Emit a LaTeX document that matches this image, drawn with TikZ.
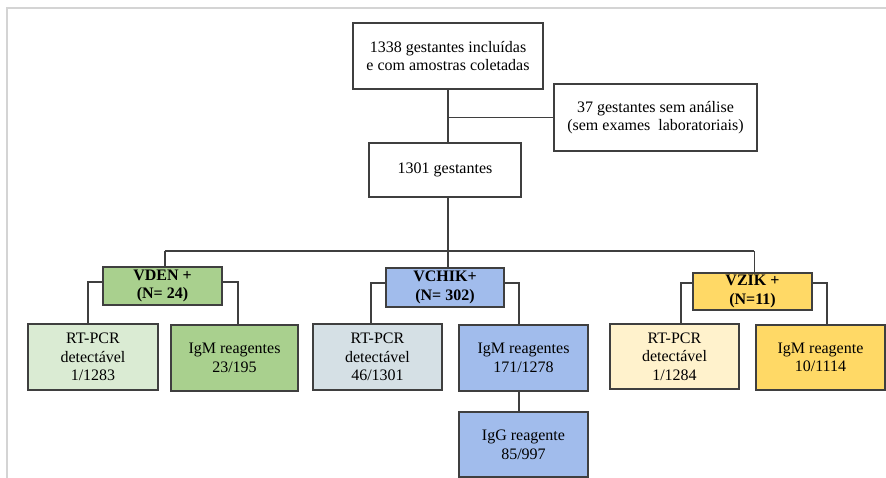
\documentclass[tikz,border=0pt]{standalone}
\usepackage{fontspec}
\setmainfont{Liberation Serif}

\definecolor{edge}{HTML}{3F3F3F}
\definecolor{frameline}{HTML}{D4D4D4}
\definecolor{denlight}{HTML}{DAEBD3}
\definecolor{dengreen}{HTML}{A9D08E}
\definecolor{chiklight}{HTML}{D5E0E5}
\definecolor{chikblue}{HTML}{A1BCEC}
\definecolor{ziklight}{HTML}{FFF2CC}
\definecolor{zikgold}{HTML}{FFD966}

\tikzset{
  box/.style={draw=edge, line width=1pt, inner sep=0pt, align=center,
    font=\fontsize{12pt}{14pt}\selectfont},
  vbox/.style={box, font=\fontsize{12pt}{14pt}\selectfont\bfseries},
  link/.style={draw=edge, line width=0.9pt},
}

\begin{document}
\begin{tikzpicture}[x=0.75pt, y=-0.75pt]
  \useasboundingbox (0,0) rectangle (886,478);
  \fill[white] (0,0) rectangle (886,478);
  % thin page frame on the top and left
  \draw[frameline, line width=0.8pt] (7,478) -- (7,8) -- (886,8);

  % screening
  \node[box, minimum width=142.5pt, minimum height=49.5pt] (top) at (448,56)
    {1338 gestantes incluídas\\e com amostras coletadas};
  \node[box, minimum width=152.25pt, minimum height=50.25pt] (excl) at (655.5,117.5)
    {37 gestantes sem análise\\(sem exames\ \ laboratoriais)};
  \node[box, minimum width=114pt, minimum height=40.5pt] (tot) at (445,170)
    {1301 gestantes};

  % virus groups
  \node[vbox, fill=dengreen, minimum width=89.25pt, minimum height=28.5pt] (vden) at (162.5,286)
    {VDEN +\\(N= 24)};
  \node[vbox, fill=chikblue, minimum width=88.5pt, minimum height=29.25pt] (vchik) at (445,287.5)
    {VCHIK+\\(N= 302)};
  \node[vbox, fill=zikgold, minimum width=89.25pt, minimum height=27.75pt] (vzik) at (752.5,291.5)
    {VZIK +\\(N=11)};

  % results
  \node[box, fill=denlight, minimum width=97.5pt, minimum height=49.5pt] (denrt) at (93,357)
    {RT-PCR\\detectável\\1/1283};
  \node[box, fill=dengreen, minimum width=95.25pt, minimum height=49.5pt] (denigm) at (234.5,358)
    {IgM reagentes\\23/195};
  \node[box, fill=chiklight, minimum width=96.75pt, minimum height=49.5pt] (chikrt) at (377.5,357)
    {RT-PCR\\detectável\\46/1301};
  \node[box, fill=chikblue, minimum width=96.75pt, minimum height=49.5pt] (chikigm) at (523.5,358)
    {IgM reagentes\\171/1278};
  \node[box, fill=chikblue, minimum width=96.75pt, minimum height=48.75pt] (chikigg) at (523.5,444.5)
    {IgG reagente\\85/997};
  \node[box, fill=ziklight, minimum width=96.75pt, minimum height=48.75pt] (zikrt) at (674.5,356.5)
    {RT-PCR\\detectável\\1/1284};
  \node[box, fill=zikgold, minimum width=96.75pt, minimum height=48.75pt] (zikigm) at (820.5,357.5)
    {IgM reagente\\10/1114};

  % trunk
  \coordinate (hub) at (448,251);
  \draw[link] (top.south) -- (top.south |- tot.north);
  \draw[link] (top.south |- excl.west) -- (excl.west);
  \draw[link] (top.south |- tot.south) -- (hub);
  \draw[link] ([xshift=1.9pt]vden.north |- hub) -- ([xshift=1.2pt]vzik.north |- hub);
  \draw[link] ([xshift=1.9pt]vden.north |- hub) -- ([xshift=1.9pt]vden.north);
  \draw[link] (hub) -- (hub |- vchik.north);
  \draw[link] ([xshift=1.2pt]vzik.north |- hub) -- ([xshift=1.2pt]vzik.north);

  % branches
  \draw[link] ([yshift=3pt]vden.west) -| ([xshift=-3.75pt]denrt.north);
  \draw[link] ([yshift=3pt]vden.east) -| ([xshift=2.6pt]denigm.north);
  \draw[link] ([yshift=3.4pt]vchik.west) -| ([xshift=-4.9pt]chikrt.north);
  \draw[link] ([yshift=3.4pt]vchik.east) -| ([xshift=-3.4pt]chikigm.north);
  \draw[link] ([yshift=6.4pt]vzik.west) -| ([xshift=4.9pt]zikrt.north);
  \draw[link] ([yshift=6.4pt]vzik.east) -| ([xshift=4.9pt]zikigm.north);
  \draw[link] ([xshift=-3.4pt]chikigm.south) -- ([xshift=-3.4pt]chikigm.south |- chikigg.north);
\end{tikzpicture}
\end{document}
